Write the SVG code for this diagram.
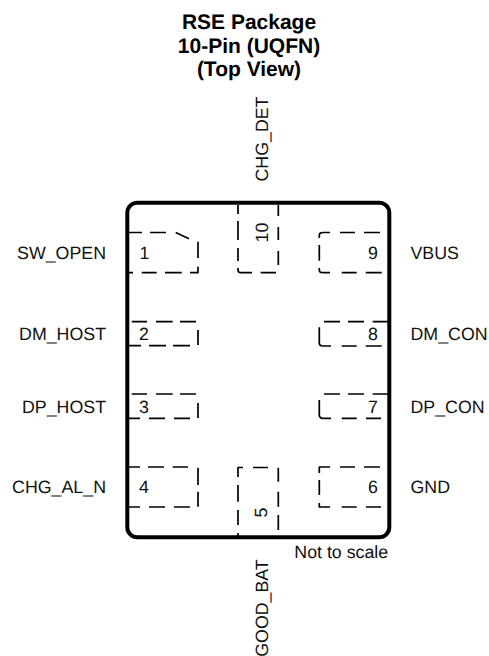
<svg xmlns="http://www.w3.org/2000/svg" width="489" height="656" viewBox="0 0 489 656">
<style>
text{font-family:"Liberation Sans",Arial,sans-serif;font-size:17.8px;fill:#111;text-rendering:geometricPrecision}
.t{font-weight:bold;font-size:21px;text-anchor:middle;fill:#000}
.r{text-anchor:end}
.c{text-anchor:middle}
.p{fill:none;stroke:#000;stroke-width:1.7;stroke-linejoin:round}
</style>
<rect width="489" height="656" fill="#fff"/>
<g id="title">
<text class="t" x="249" y="28.500">RSE Package</text>
<text class="t" x="249" y="52.500">10-Pin (UQFN)</text>
<text class="t" x="249" y="76">(Top View)</text>
</g>
<g id="package"><rect x="127.300" y="202.700" width="262" height="334.600" rx="10" fill="none" stroke="#000" stroke-width="4"/>
<text x="294.300" y="558.300">Not to scale</text></g>
<g id="pin1"><path class="p" d="M129 232.500H142M150 232.500H166M175.700 232.500L189 238.700M198 241.700V258M198 266.700V272.700H190M181.700 272.700H165M156.700 272.700H141.700M133 272.700H129"/>
<text x="139.500" y="258.500">1</text><text class="r" x="106" y="259">SW_OPEN</text></g>
<g id="pin2"><path class="p" d="M131.700 321.700H147M156 321.700H172.700M180 321.700H196M198 330V345M190 345.700H173M166 345.700H149M141 345.700H129"/>
<text x="139" y="340">2</text><text class="r" x="106" y="340">DM_HOST</text></g>
<g id="pin3"><path class="p" d="M131.700 394H147M156 394H172.700M180 394H196M198 403V418M190 418.300H174M165 418.300H149M140 418.300H129"/>
<text x="139" y="412.500">3</text><text class="r" x="106" y="412.700">DP_HOST</text></g>
<g id="pin4"><path class="p" d="M129 467H140M148 467H164M172.700 467H188M198 467.700V485M198 491.700V506.700M190 507H174M165 507H149M140 507H129"/>
<text x="139" y="492.500">4</text><text class="r" x="106" y="492.700">CHG_AL_N</text></g>
<g id="pin5"><path class="p" d="M238 477V467.500H243M253 467.500H268M278.300 467.700V481.700M278.300 491.700V506.700M278.300 515V530M238 485V501.700M238 510V525M238 533V537"/>
<text class="c" transform="translate(267 512.500) rotate(-90)">5</text><text class="r" transform="translate(267.800 559.300) rotate(-90)">GOOD_BAT</text></g>
<g id="pin6"><path class="p" d="M319.300 473V467H330M340 467H355M364 467H380M319.300 480V495M319.300 503V507H330M341.700 507H356.700M366 507H381"/>
<text x="368" y="493">6</text><text x="410.500" y="492.700">GND</text></g>
<g id="pin7"><path class="p" d="M324 394H340M348 394H364M372.700 394H388M319.300 400V415Q319.300 418.300 323 418.300H331M341.700 418.300H356.700M366 418.300H381"/>
<text x="368" y="412.500">7</text><text x="410.500" y="412.700">DP_CON</text></g>
<g id="pin8"><path class="p" d="M324 321.700H340M348 321.700H364M372.700 321.700H388M319.300 327.300V343Q319.300 346 323 346H331M341.700 346H356.700M365.700 346H381.700"/>
<text x="368" y="340">8</text><text x="410.500" y="340">DM_CON</text></g>
<g id="pin9"><path class="p" d="M319.300 238V235Q319.300 232.500 323 232.500H330M340 232.500H355M364 232.500H380M319.300 245V260.700M319.300 268V270Q319.300 272.700 323 272.700H330M341.700 272.700H356.700M365.700 272.700H381.700"/>
<text x="368" y="259">9</text><text x="410.500" y="258.500">VBUS</text></g>
<g id="pin10"><path class="p" d="M238 205V214M238 221V240M238 248V261M238 268V270Q238 272.700 241 272.700H252M260.700 272.700H276M278.300 205V216M278.300 227V240M278.300 251V265"/>
<text class="c" transform="translate(268 232.500) rotate(-90)">10</text><text class="c" transform="translate(268.300 139) rotate(-90)">CHG_DET</text></g>
</svg>
